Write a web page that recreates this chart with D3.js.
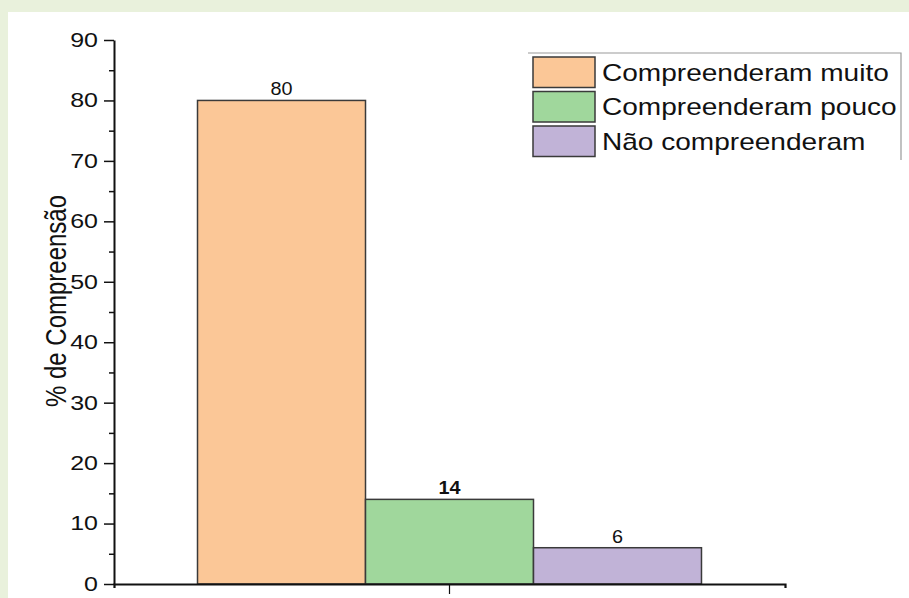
<!DOCTYPE html>
<html><head><meta charset="utf-8">
<script src="https://cdn.jsdelivr.net/npm/d3@7"></script>
<style>
html,body{margin:0;padding:0;background:#e9f1dc;}
svg{display:block;}
</style></head>
<body>
<script>
const categories = [""];
const seriesNames = ["Compreenderam muito", "Compreenderam pouco", "Não compreenderam"];
const seriesValues = [80, 14, 6];
const seriesColors = ["#fbc797", "#a0d79c", "#c1b3d7"];
const yTicks = [0, 10, 20, 30, 40, 50, 60, 70, 80, 90];
const yMinorTicks = [5, 15, 25, 35, 45, 55, 65, 75, 85];

(function () {
const W = 909, H = 598;
const svg = d3.select("body").append("svg").attr("width", W).attr("height", H);
svg.append("rect").attr("x", 8).attr("y", 12).attr("width", W - 8).attr("height", H - 12).attr("fill", "#ffffff");

const pLeft = 114, pRight = 785, pTop = 40, pBottom = 584;
const font = "'Liberation Sans', Arial, sans-serif";
const SX = 1.2; // horizontal stretch of the original picture's text

const y = d3.scaleLinear().domain([0, 90]).range([pBottom, pTop]);
const x0 = d3.scaleBand().domain(categories).range([pLeft, pRight]).paddingInner(0).paddingOuter(0.1657);
const x1 = d3.scaleBand().domain(seriesNames).range([0, x0.bandwidth()]).padding(0);

// bars
const g = svg.append("g");
categories.forEach(cat => {
  seriesNames.forEach((s, i) => {
    const bx = x0(cat) + x1(s);
    g.append("rect")
      .attr("x", bx).attr("y", y(seriesValues[i]))
      .attr("width", x1.bandwidth()).attr("height", y(0) - y(seriesValues[i]))
      .attr("fill", seriesColors[i]).attr("stroke", "#3a3a3a").attr("stroke-width", 1.5);
    g.append("text")
      .attr("transform", `translate(${bx + x1.bandwidth() / 2},${y(seriesValues[i]) - 5}) scale(1.1,1)`)
      .attr("text-anchor", "middle").attr("font-family", font).attr("font-size", 18)
      .attr("font-weight", i === 1 ? "bold" : "normal")
      .attr("fill", "#111").text(seriesValues[i]);
  });
});

// y axis
const yAxis = svg.append("g").attr("transform", `translate(${pLeft},0)`)
  .call(d3.axisLeft(y).tickValues(yTicks).tickSizeInner(10).tickSizeOuter(0).tickPadding(5));
yAxis.selectAll(".tick text")
  .attr("x", 0).attr("transform", "translate(-16,0) scale(1.25,1)")
  .attr("font-family", font).attr("font-size", 20).attr("fill", "#111");
yAxis.select(".domain").attr("stroke", "#111").attr("stroke-width", 2);
yAxis.selectAll(".tick line").attr("stroke", "#111").attr("stroke-width", 1.5);
const yMinor = svg.append("g").attr("transform", `translate(${pLeft},0)`)
  .call(d3.axisLeft(y).tickValues(yMinorTicks).tickSize(5).tickFormat(""));
yMinor.select(".domain").remove();
yMinor.selectAll(".tick line").attr("stroke", "#111").attr("stroke-width", 1.5);

// x axis
const xAxis = svg.append("g").attr("transform", `translate(0,${pBottom})`)
  .call(d3.axisBottom(x0).tickSizeInner(10).tickSizeOuter(4));
xAxis.select(".domain").attr("stroke", "#111").attr("stroke-width", 2.2);
xAxis.selectAll(".tick line").attr("stroke", "#111").attr("stroke-width", 1.2);
xAxis.selectAll("text").remove();

// y label
svg.append("text")
  .attr("transform", `translate(66,301) rotate(-90) scale(1,${SX})`)
  .attr("text-anchor", "middle").attr("font-family", font).attr("font-size", 24)
  .attr("fill", "#111").text("% de Compreensão");

// legend
const lg = svg.append("g");
lg.append("path").attr("d", "M528,53 H901 V160").attr("fill", "none").attr("stroke", "#999").attr("stroke-width", 1.2);
seriesNames.forEach((s, i) => {
  const yy = 57 + i * 34.5;
  lg.append("rect").attr("x", 533).attr("y", yy).attr("width", 62).attr("height", 30.5)
    .attr("fill", seriesColors[i]).attr("stroke", "#3a3a3a").attr("stroke-width", 1.5);
  lg.append("text").attr("transform", `translate(602,${yy + 23.5}) scale(1.22,1)`)
    .attr("font-family", font).attr("font-size", 23).attr("fill", "#111").text(s);
});
})();
</script>
</body></html>
